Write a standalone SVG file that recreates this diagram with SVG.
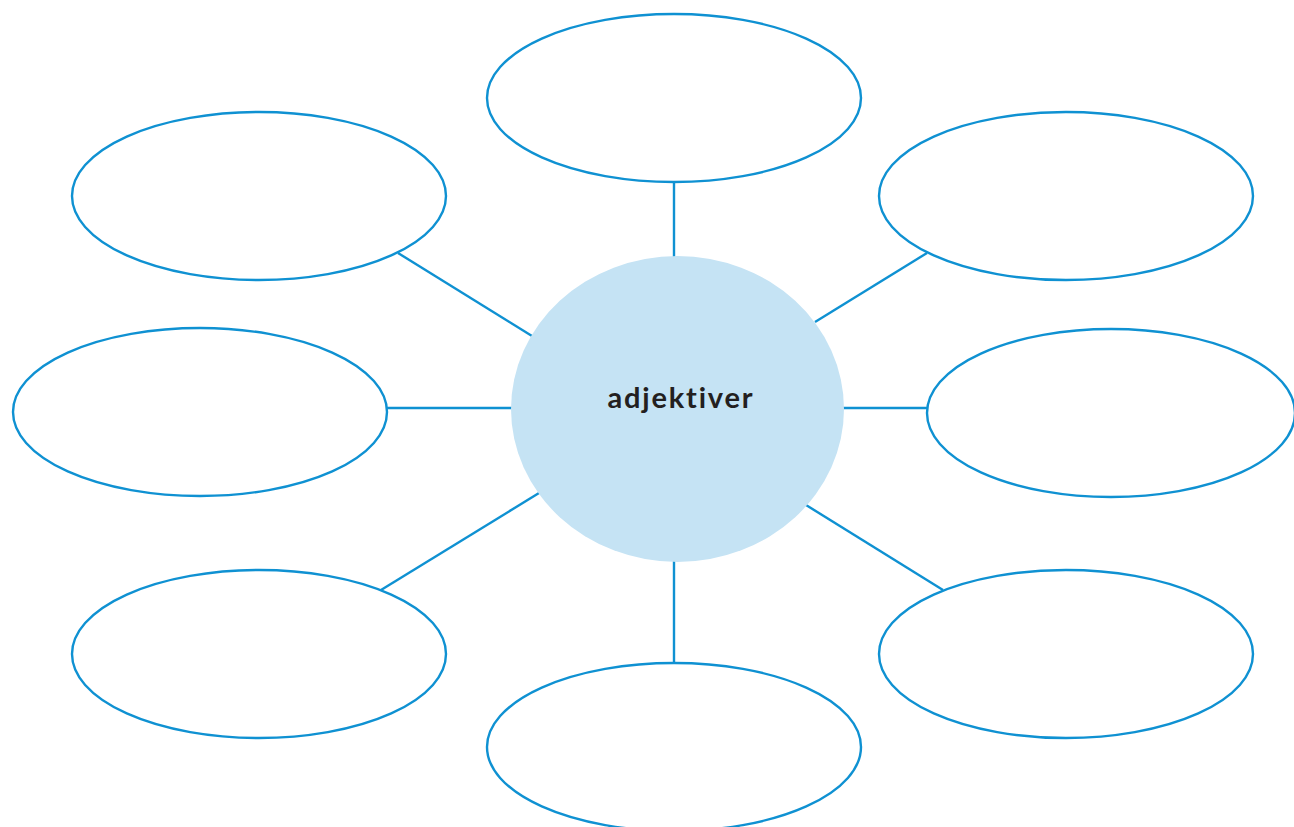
<svg xmlns="http://www.w3.org/2000/svg" width="1294" height="827" viewBox="0 0 1294 827">
<style>
.n{fill:#fff;stroke:#0f91d2;stroke-width:2.4}
.c line{stroke:#0f91d2;stroke-width:2.4}
.t{font-family:Lato,"Liberation Sans",sans-serif;font-weight:bold;font-size:29px;letter-spacing:1.8px;font-variant-ligatures:none;fill:#231f20}
</style>
<rect width="1294" height="827" fill="#fff"/>
<g class="c">
<line x1="674" y1="182" x2="674" y2="258"/>
<line x1="398" y1="253" x2="532" y2="336"/>
<line x1="927" y1="253" x2="815" y2="322"/>
<line x1="387" y1="408" x2="512" y2="408"/>
<line x1="843" y1="408" x2="927" y2="408"/>
<line x1="381" y1="590" x2="539" y2="493"/>
<line x1="806" y1="505" x2="943" y2="590"/>
<line x1="674" y1="561" x2="674" y2="663"/>
</g>
<g id="center"><ellipse cx="677.5" cy="409" rx="166.5" ry="153" fill="#c5e3f4"/><text class="t" x="681" y="408" text-anchor="middle">adjektiver</text></g>
<g id="n-top"><ellipse class="n" cx="674" cy="98" rx="187" ry="84"/></g>
<g id="n-tl"><ellipse class="n" cx="259" cy="196" rx="187" ry="84"/></g>
<g id="n-tr"><ellipse class="n" cx="1066" cy="196" rx="187" ry="84"/></g>
<g id="n-l"><ellipse class="n" cx="200" cy="412" rx="187" ry="84"/></g>
<g id="n-r"><ellipse class="n" cx="1111" cy="413" rx="184" ry="84"/></g>
<g id="n-bl"><ellipse class="n" cx="259" cy="654" rx="187" ry="84"/></g>
<g id="n-br"><ellipse class="n" cx="1066" cy="654" rx="187" ry="84"/></g>
<g id="n-b"><ellipse class="n" cx="674" cy="747" rx="187" ry="84"/></g>
</svg>
